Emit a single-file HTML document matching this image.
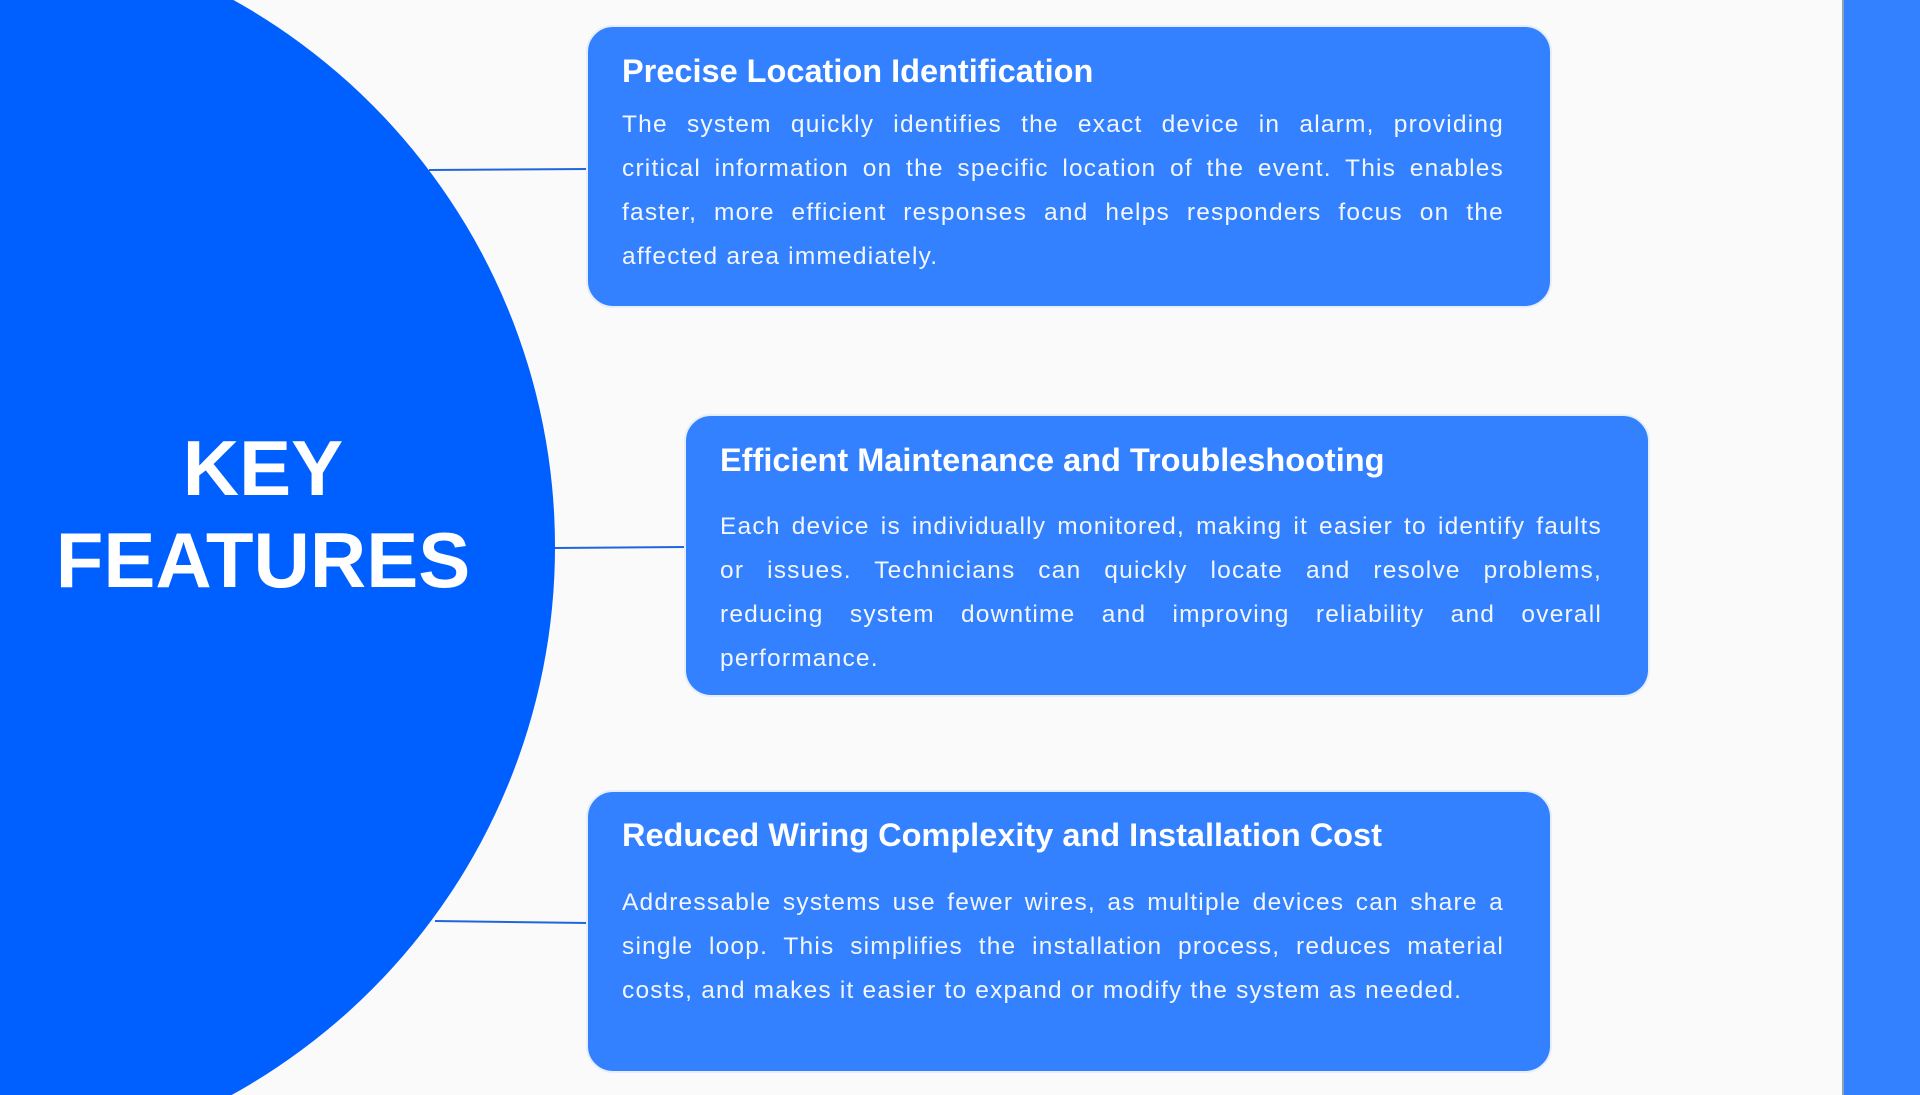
<!DOCTYPE html>
<html><head><meta charset="utf-8"><style>
html,body{margin:0;padding:0;width:1920px;height:1095px;overflow:hidden}
body{background:#fafafa;position:relative;font-family:"Liberation Sans",sans-serif}
.wrap{position:absolute;left:0;top:0;width:1920px;height:1095px;overflow:hidden}
.strip{position:absolute;left:1842px;top:0;width:78px;height:1095px;background:#3381ff;border-left:2px solid #8fa3b8}
.box{position:absolute;width:966px;height:283px;background:#3381ff;border:2px solid #e6eefc;border-radius:27px;box-sizing:border-box;color:#fff}
.box h2{position:absolute;margin:0;font-size:32.5px;font-weight:bold;left:34px;white-space:nowrap;line-height:40px}
.box .p{position:absolute;left:34px;width:882px;font-size:24.5px;letter-spacing:1.2px;line-height:44px;color:#f2f6ff}
.p div{text-align:justify;text-align-last:justify;white-space:nowrap}
.p div.l{text-align-last:left}
.key{position:absolute;left:0;width:526px;top:422px;text-align:center;color:#fff;font-weight:bold;font-size:78px;line-height:92px}
svg{position:absolute;left:0;top:0}
</style></head><body>
<div class="wrap">
<svg width="1920" height="1095" viewBox="0 0 1920 1095"><circle cx="-71" cy="547" r="626" fill="#005fff"/><g stroke="#1f66dd" stroke-width="2"><line x1="429" y1="170" x2="588" y2="169"/><line x1="555" y1="548" x2="686" y2="547"/><line x1="435" y1="921" x2="588" y2="923"/></g></svg>
<div class="key">KEY<br>FEATURES</div>
<div class="box" style="left:586px;top:25px">
<h2 style="top:24px">Precise Location Identification</h2>
<div class="p" style="top:76px">
<div>The system quickly identifies the exact device in alarm, providing</div>
<div>critical information on the specific location of the event. This enables</div>
<div>faster, more efficient responses and helps responders focus on the</div>
<div class="l">affected area immediately.</div>
</div>
</div>
<div class="box" style="left:684px;top:414px">
<h2 style="top:24px">Efficient Maintenance and Troubleshooting</h2>
<div class="p" style="top:89px">
<div>Each device is individually monitored, making it easier to identify faults</div>
<div>or issues. Technicians can quickly locate and resolve problems,</div>
<div>reducing system downtime and improving reliability and overall</div>
<div class="l">performance.</div>
</div>
</div>
<div class="box" style="left:586px;top:790px">
<h2 style="top:23px">Reduced Wiring Complexity and Installation Cost</h2>
<div class="p" style="top:89px">
<div>Addressable systems use fewer wires, as multiple devices can share a</div>
<div>single loop. This simplifies the installation process, reduces material</div>
<div class="l">costs, and makes it easier to expand or modify the system as needed.</div>
</div>
</div>
<div class="strip"></div>
</div>
</body></html>
